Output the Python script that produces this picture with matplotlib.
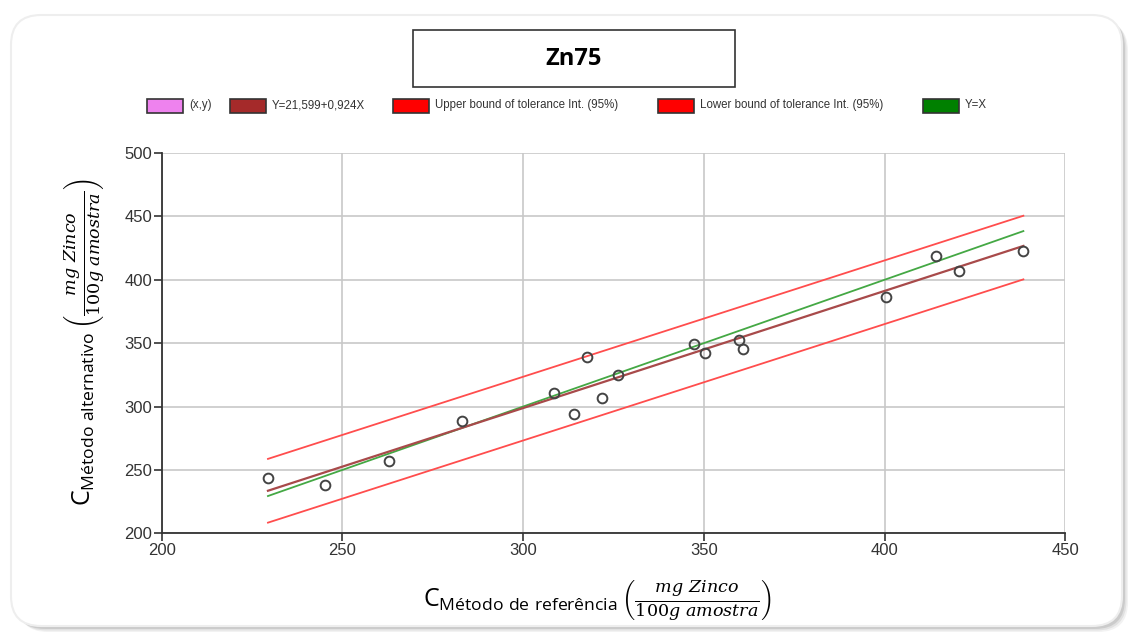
import matplotlib.pyplot as plt
from matplotlib.patches import FancyBboxPatch, Rectangle
from matplotlib.transforms import IdentityTransform

plt.rcParams['font.family'] = ['Liberation Sans', 'DejaVu Sans']
plt.rcParams['mathtext.fontset'] = 'custom'
plt.rcParams['mathtext.rm'] = 'DejaVu Serif'
plt.rcParams['mathtext.it'] = 'DejaVu Serif:italic'
plt.rcParams['mathtext.sf'] = 'Open Sans'

# dados
x_ref = [229.4, 245.2, 262.9, 283.0, 308.5, 314.2, 317.8, 321.7, 326.2,
         347.3, 350.2, 359.8, 360.9, 400.5, 414.3, 420.7, 438.4]
y_alt = [243.7, 238.4, 257.1, 288.2, 310.5, 294.5, 338.9, 306.9, 324.5,
         349.2, 342.1, 352.1, 345.3, 386.3, 418.9, 406.8, 422.3]
intercept = 21.599
slope = 0.924
x_ends = [229.4, 438.4]
upper_ends = [258.7, 450.5]
lower_ends = [208.4, 400.3]

legend_labels = ['(x,y)', 'Y=21,599+0,924X', 'Upper bound of tolerance Int. (95%)',
                 'Lower bound of tolerance Int. (95%)', 'Y=X']
legend_colors = ['#ee82ee', '#a52a2a', '#ff0000', '#ff0000', '#008000']
legend_xpix = [147, 230, 393, 658, 923]

W, H = 1130, 634
fig = plt.figure(figsize=(W / 100, H / 100), dpi=100)
fig.patch.set_facecolor('white')

# cartao arredondado com sombra
for i, a in enumerate([0.10, 0.15, 0.22]):
    off = 6 - i * 1.5
    sh = FancyBboxPatch((12 + off, 8 - off), 1110, 611,
                        boxstyle='round,pad=0,rounding_size=30',
                        transform=IdentityTransform(), facecolor='#808080',
                        edgecolor='none', alpha=a, zorder=-3)
    fig.add_artist(sh)
card = FancyBboxPatch((11, 8), 1111, 611, boxstyle='round,pad=0,rounding_size=30',
                      transform=IdentityTransform(), facecolor='white',
                      edgecolor='#eeeeee', linewidth=1.5, zorder=-2)
fig.add_artist(card)

# titulo
fig.add_artist(Rectangle((413 / W, 1 - 87 / H), 322 / W, 57 / H, transform=fig.transFigure,
                         facecolor='white', edgecolor='#333333', linewidth=1.2))
fig.text(574 / W, 1 - 59 / H, 'Zn75', ha='center', va='center', fontsize=17,
         fontweight='bold', family=['Open Sans', 'DejaVu Sans'])

# legenda
for lab, col, xp in zip(legend_labels, legend_colors, legend_xpix):
    fig.add_artist(Rectangle((xp / W, 1 - 113 / H), 36 / W, 14 / H, transform=fig.transFigure,
                             facecolor=col, edgecolor='#333333', linewidth=1.2))
    fig.text((xp + 42) / W, 1 - 105 / H, lab, ha='left', va='center', fontsize=8.3,
             color='#333333')

ax = fig.add_axes([161.7 / W, 1 - 533.3 / H, 903.6 / W, 380.3 / H])
ax.set_xlim(200, 450)
ax.set_ylim(200, 500)
ax.set_xticks([200, 250, 300, 350, 400, 450])
ax.set_yticks([200, 250, 300, 350, 400, 450, 500])
ax.grid(True, color='#c8c8c8', linewidth=1.2)
ax.set_axisbelow(True)
for s in ['top', 'right']:
    ax.spines[s].set_visible(False)
for s in ['left', 'bottom']:
    ax.spines[s].set_color('#333333')
    ax.spines[s].set_linewidth(1.3)
ax.tick_params(direction='out', length=6, width=1.2, color='#333333',
               labelsize=12, labelcolor='#333333', pad=1)

ax.plot(x_ends, upper_ends, color='#ff4d4d', linewidth=1.3, zorder=2)
ax.plot(x_ends, lower_ends, color='#ff4d4d', linewidth=1.3, zorder=2)
ax.plot(x_ends, x_ends, color='#44a844', linewidth=1.3, zorder=3)
ax.plot(x_ends, [intercept + slope * v for v in x_ends], color='#a84a4a',
        linewidth=1.6, zorder=3)
ax.plot(x_ref, y_alt, 'o', markerfacecolor='none', markeredgecolor='#444444',
        markersize=7, markeredgewidth=1.4, zorder=4)

ylab = (r'$\mathsf{C}_{\mathsf{Método\ alternativo}}\,'
        r'\left(\frac{\mathit{mg\ Zinco}}{\mathrm{100}\mathit{g\ amostra}}\right)$')
xlab = (r'$\mathsf{C}_{\mathsf{Método\ de\ referência}}\,'
        r'\left(\frac{\mathit{mg\ Zinco}}{\mathrm{100}\mathit{g\ amostra}}\right)$')
fig.text(85 / W, 1 - 342 / H, ylab, rotation=90, ha='center', va='center', fontsize=18)
fig.text(597 / W, 1 - 601 / H, xlab, ha='center', va='center', fontsize=18)

fig.savefig('out.png', dpi=100)
